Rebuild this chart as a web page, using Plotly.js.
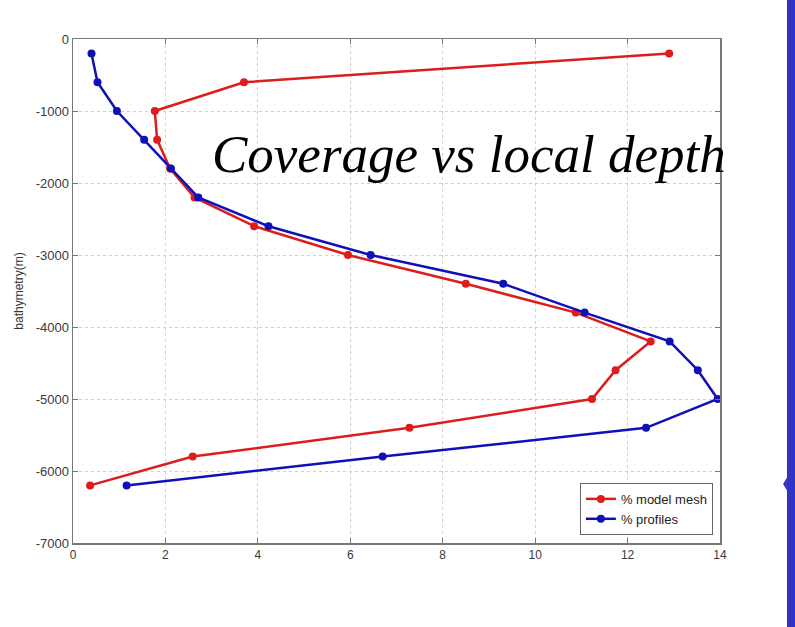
<!DOCTYPE html>
<html>
<head>
<meta charset="utf-8">
<script src="https://cdn.plot.ly/plotly-3.0.1.min.js"></script>
<style>html,body{margin:0;padding:0;background:#fff;}#chart{width:795px;height:627px;}</style>
</head>
<body>
<div id="chart"></div>
<script>
const depth = [-200, -600, -1000, -1400, -1800, -2200, -2600, -3000, -3400, -3800, -4200, -4600, -5000, -5400, -5800, -6200];
const modelMesh = [12.9, 3.7, 1.77, 1.82, 2.1, 2.63, 3.92, 5.95, 8.5, 10.88, 12.5, 11.74, 11.23, 7.28, 2.59, 0.37];
const profiles = [0.4, 0.53, 0.95, 1.54, 2.12, 2.71, 4.23, 6.44, 9.31, 11.07, 12.91, 13.52, 13.95, 12.4, 6.7, 1.16];
const seriesNames = ['% model mesh', '% profiles'];
const titleText = 'Coverage vs local depth';
const yTitle = 'bathymetry(m)';
const xTicks = [0, 2, 4, 6, 8, 10, 12, 14];
const yTicks = [0, -1000, -2000, -3000, -4000, -5000, -6000, -7000];

const traces = [
  {x: modelMesh, y: depth, name: seriesNames[0], mode: 'lines+markers',
   line: {color: '#dd1c1c', width: 2.5}, marker: {color: '#dd1c1c', size: 8}},
  {x: profiles, y: depth, name: seriesNames[1], mode: 'lines+markers',
   line: {color: '#1010b8', width: 2.5}, marker: {color: '#1010b8', size: 8}}
];

const axisCommon = {
  showline: true, mirror: 'ticks', linecolor: '#777', linewidth: 1.5,
  ticks: 'inside', ticklen: 5, tickcolor: '#777',
  showgrid: true, gridcolor: '#cfcfcf', griddash: 'dot', gridwidth: 1,
  zeroline: false,
  tickfont: {family: 'Liberation Sans, Arial, sans-serif', size: 12, color: '#3a3a3a'}
};

const layout = {
  width: 795, height: 627,
  margin: {l: 73, r: 75, t: 39, b: 84},
  paper_bgcolor: '#fff', plot_bgcolor: '#fff',
  showlegend: true,
  legend: {x: 0.989, y: 0.016, xanchor: 'right', yanchor: 'bottom',
    bgcolor: '#fff', bordercolor: '#666', borderwidth: 1,
    font: {family: 'Liberation Sans, Arial, sans-serif', size: 13, color: '#222'},
    tracegroupgap: 0, itemwidth: 30},
  xaxis: Object.assign({}, axisCommon, {range: [0, 14], tickvals: xTicks, ticktext: xTicks.map(String)}),
  yaxis: Object.assign({}, axisCommon, {range: [-7000, 0], tickvals: yTicks, ticktext: yTicks.map(String),
    tickfont: {family: 'Liberation Sans, Arial, sans-serif', size: 13, color: '#3a3a3a'},
    title: {text: yTitle, font: {family: 'Liberation Sans, Arial, sans-serif', size: 12, color: '#333'}, standoff: 9}}),
  annotations: [{
    text: titleText, xref: 'paper', yref: 'paper', x: 0.612, y: 0.772,
    xanchor: 'center', yanchor: 'middle', showarrow: false,
    font: {family: 'Liberation Serif, Times New Roman, serif', size: 53, color: '#000', style: 'italic'}
  }],
  shapes: [
    {type: 'rect', xref: 'paper', yref: 'paper', x0: 1.1035, x1: 1.2, y0: -0.3, y1: 1.2,
     fillcolor: '#3232c8', line: {width: 0}, layer: 'above'},
    {type: 'path', xref: 'paper', yref: 'paper',
     path: 'M 1.1035 0.13 L 1.0975 0.117 L 1.1035 0.104 Z',
     fillcolor: '#3232c8', line: {width: 0}, layer: 'above'}
  ]
};

Plotly.newPlot('chart', traces, layout, {displayModeBar: false, staticPlot: true});
</script>
</body>
</html>
